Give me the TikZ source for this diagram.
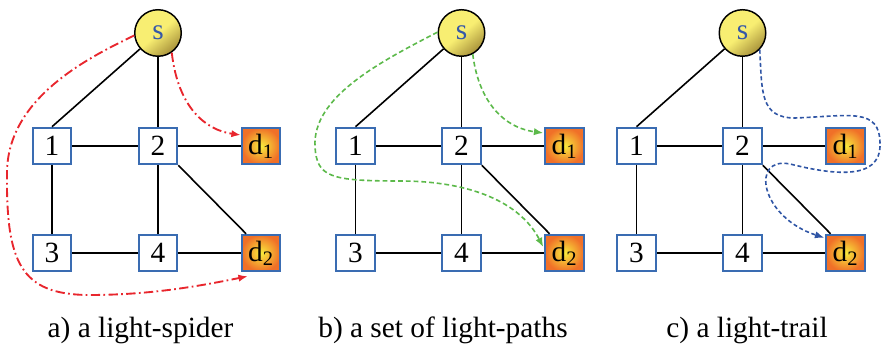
\documentclass[tikz,border=0pt]{standalone}
\usepackage{fontspec}
\setmainfont{Liberation Serif}
\usetikzlibrary{arrows.meta}
\definecolor{ndblue}{HTML}{3A6CB2}
\definecolor{srcyel}{HTML}{F8EE72}
\definecolor{srcgold}{HTML}{A8923A}
\definecolor{dstyel}{HTML}{F8EC3C}
\definecolor{dstorg}{HTML}{F07028}
\definecolor{sptred}{HTML}{E8262D}
\definecolor{lpgreen}{HTML}{5CB94A}
\definecolor{ltblue}{HTML}{2F55A5}
\definecolor{sletter}{HTML}{3558A8}

\begin{document}
\begin{tikzpicture}[>=Latex,x=0.75pt,y=0.75pt,
  font=\fontsize{22}{26}\selectfont,
  sw/.style={draw=ndblue,line width=1.4pt,fill=white,
    minimum width=29pt,minimum height=27.5pt,inner sep=0pt},
  dst/.style={sw,inner color=dstyel,outer color=dstorg},
  src/.style={circle,draw=black,line width=1.1pt,minimum size=34.9pt,
    inner sep=0pt,top color=srcyel,bottom color=srcgold,
    middle color=srcyel,shading angle=40,text=sletter},
  link/.style={line width=1.2pt},
  tipa/.style={-{Latex[length=7pt,width=5.5pt]}},
  spider/.style={sptred,line width=1.4pt,
    dash pattern=on 7pt off 2.5pt on 1.3pt off 2.5pt},
  lpath/.style={lpgreen,line width=1.2pt,dash pattern=on 3.6pt off 2.2pt},
  ltrail/.style={ltblue,line width=1.2pt,dash pattern=on 3pt off 2pt}]

  \useasboundingbox (0,0) rectangle (882,352);

  % ---- three copies of the network ----
  \foreach \p/\ox/\cx/\lbl in {a/0/140.5/a) a light-spider,
      b/303.5/443/b) a set of light-paths, c/584.5/747/c) a light-trail} {
    \node[src] (\p-s) at (\ox+158,319) {s};
    \node[sw]  (\p-1) at (\ox+52,206)  {1};
    \node[sw]  (\p-2) at (\ox+158,206) {2};
    \node[dst] (\p-d1) at (\ox+261,206) {d\textsubscript{1}};
    \node[sw]  (\p-3) at (\ox+52,99)   {3};
    \node[sw]  (\p-4) at (\ox+158,99)  {4};
    \node[dst] (\p-d2) at (\ox+261,99)  {d\textsubscript{2}};

    \draw[link] (\p-s) -- (\p-1.north);
    \draw[link] (\p-s) -- (\p-2);
    \draw[link] (\p-1) -- (\p-2);
    \draw[link] (\p-2) -- (\p-d1);
    \draw[link] (\p-1) -- (\p-3);
    \draw[link] (\p-2) -- (\p-4);
    \draw[link] (\p-3) -- (\p-4);
    \draw[link] (\p-4) -- (\p-d2);
    \draw[link] (\p-2.south east) -- ([xshift=4pt]\p-d2.north west);

    \node[anchor=base] (\p-cap) at (\cx,14) {\lbl};
  }

  % ---- a) light-spider ----
  \draw[spider,tipa] (a-s.186) .. controls (90,295) and (8,255) .. (7,180)
        .. controls (6,90) and (20,57) .. (90,57)
        .. controls (150,57) and (200,66) .. ([shift={(7,-4)}]a-d2.south west);
  \draw[spider,tipa] (a-s.-55) .. controls (178,245) and (205,222)
        .. ([shift={(0,11)}]a-d1.west);

  % ---- b) light-paths ----
  \draw[lpath,tipa] (b-s.178) .. controls (380,290) and (312,255) .. (315,205)
        .. controls (317,175) and (330,171) .. (400,171)
        .. controls (470,171) and (520,150) .. ([shift={(-1,6)}]b-d2.west);
  \draw[lpath,tipa] (b-s.-62) .. controls (478,255) and (500,225)
        .. ([shift={(-1,13)}]b-d1.west);

  % ---- c) light-trail ----
  \draw[ltrail,tipa] (c-s.-44) .. controls (762,260) and (760,234) .. (795,234)
        .. controls (850,236) and (880,245) .. (880,208)
        .. controls (881,170) and (830,178) .. (790,188)
        .. controls (750,196) and (760,135) .. ([shift={(-1,-4)}]c-d2.north west);

\end{tikzpicture}
\end{document}
